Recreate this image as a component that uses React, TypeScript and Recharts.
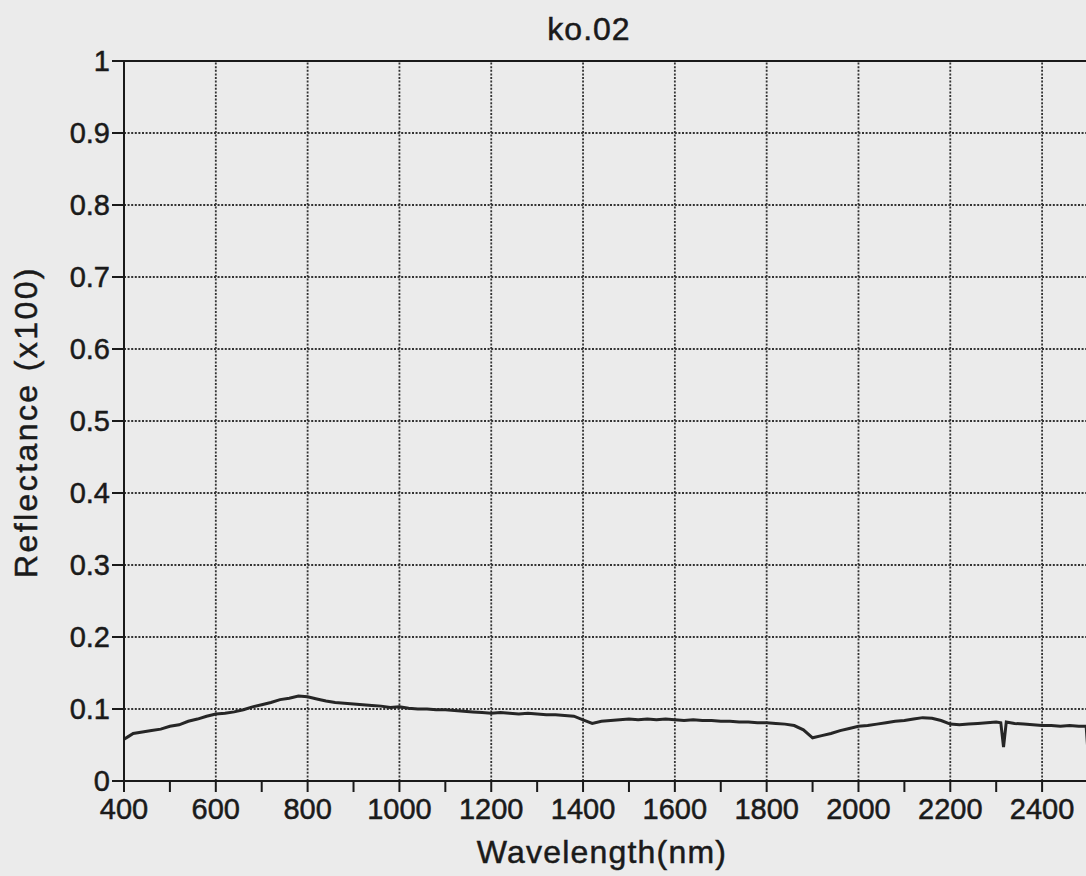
import React from "react";
import {
  LineChart,
  Line,
  XAxis,
  YAxis,
  ReferenceLine,
} from "recharts";

// wavelength in nm, reflectance (x100)
const wavelength = [
  400, 410, 420, 440, 460, 480, 500, 520, 540, 560, 580, 600, 620, 640, 660,
  680, 700, 720, 740, 760, 780, 800, 820, 840, 860, 880, 900, 920, 940, 960,
  980, 1000, 1020, 1040, 1060, 1080, 1100, 1120, 1140, 1160, 1180, 1200, 1220,
  1240, 1260, 1280, 1300, 1320, 1340, 1360, 1380, 1400, 1420, 1440, 1460,
  1480, 1500, 1520, 1540, 1560, 1580, 1600, 1620, 1640, 1660, 1680, 1700,
  1720, 1740, 1760, 1780, 1800, 1820, 1840, 1860, 1880, 1900, 1920, 1940,
  1960, 1980, 2000, 2020, 2040, 2060, 2080, 2100, 2120, 2140, 2160, 2180,
  2200, 2220, 2240, 2260, 2280, 2300, 2310, 2316, 2322, 2340, 2360, 2380,
  2400, 2420, 2440, 2460, 2480, 2496, 2500,
];

const reflectance = [
  0.058, 0.062, 0.066, 0.068, 0.07, 0.072, 0.076, 0.078, 0.083, 0.086, 0.09,
  0.093, 0.094, 0.096, 0.099, 0.103, 0.106, 0.109, 0.113, 0.115, 0.118, 0.117,
  0.114, 0.111, 0.109, 0.108, 0.107, 0.106, 0.105, 0.104, 0.102, 0.103, 0.101,
  0.1, 0.1, 0.099, 0.099, 0.098, 0.097, 0.096, 0.095, 0.094, 0.095, 0.094,
  0.093, 0.094, 0.093, 0.092, 0.092, 0.091, 0.09, 0.085, 0.08, 0.083, 0.084,
  0.085, 0.086, 0.085, 0.086, 0.085, 0.086, 0.085, 0.084, 0.085, 0.084, 0.084,
  0.083, 0.083, 0.082, 0.082, 0.081, 0.081, 0.08, 0.079, 0.077, 0.071, 0.06,
  0.063, 0.066, 0.07, 0.073, 0.076, 0.077, 0.079, 0.081, 0.083, 0.084, 0.086,
  0.088, 0.087, 0.084, 0.079, 0.078, 0.079, 0.08, 0.081, 0.082, 0.081, 0.047,
  0.082, 0.08, 0.079, 0.078, 0.077, 0.077, 0.076, 0.077, 0.076, 0.076, 0.04,
];

const xTicks = [
  400, 500, 600, 700, 800, 900, 1000, 1100, 1200, 1300, 1400, 1500, 1600,
  1700, 1800, 1900, 2000, 2100, 2200, 2300, 2400, 2500,
];
const xGrid = [600, 800, 1000, 1200, 1400, 1600, 1800, 2000, 2200, 2400];
const yTicks = [0, 0.1, 0.2, 0.3, 0.4, 0.5, 0.6, 0.7, 0.8, 0.9, 1];
const yGrid = [0.1, 0.2, 0.3, 0.4, 0.5, 0.6, 0.7, 0.8, 0.9];

const data = wavelength.map((w, i) => ({ w, r: reflectance[i] }));

const FONT = '"Liberation Sans", Arial, Helvetica, sans-serif';
const INK = "#1a1a1a";

function XTick(props: any) {
  const { x, y, payload } = props;
  const v = payload.value;
  if (v % 200 !== 0 || v > 2400) return <g />;
  return (
    <text
      x={x}
      y={y}
      dy={25}
      textAnchor="middle"
      fontSize={29}
      fontFamily={FONT}
      fill={INK}
      stroke={INK}
      strokeWidth={0.5}
    >
      {v}
    </text>
  );
}

const fmtY = (v: number) => (v === 0 ? "0" : v === 1 ? "1" : v.toFixed(1));

export default function App() {
  return (
    <div
      style={{
        position: "absolute",
        left: 0,
        top: 0,
        width: 1086,
        height: 876,
        overflow: "hidden",
        background: "#ebebeb",
      }}
    >
      <LineChart
        width={1090}
        height={876}
        data={data}
        margin={{ top: 61, right: 2, left: 0, bottom: 0 }}
      >
        {yGrid.map((v) => (
          <ReferenceLine
            key={"h" + v}
            y={v}
            stroke="#333"
            strokeWidth={1.8}
            strokeDasharray="2 1.6"
          />
        ))}
        {xGrid.map((v) => (
          <ReferenceLine
            key={"v" + v}
            x={v}
            stroke="#333"
            strokeWidth={1.8}
            strokeDasharray="2 1.6"
          />
        ))}
        <ReferenceLine y={1} stroke={INK} strokeWidth={2} />
        <XAxis
          type="number"
          dataKey="w"
          domain={[400, 2500]}
          ticks={xTicks}
          interval={0}
          height={95}
          tickSize={11}
          tick={<XTick />}
          axisLine={{ stroke: INK, strokeWidth: 2 }}
          tickLine={{ stroke: INK, strokeWidth: 2 }}
        />
        <YAxis
          type="number"
          domain={[0, 1]}
          ticks={yTicks}
          interval={0}
          width={124}
          tickSize={12}
          tickMargin={2}
          tickFormatter={fmtY}
          tick={{
            fontSize: 29,
            fontFamily: FONT,
            fill: INK,
            stroke: INK,
            strokeWidth: 0.5,
          }}
          axisLine={{ stroke: INK, strokeWidth: 2 }}
          tickLine={{ stroke: INK, strokeWidth: 2 }}
        />
        <Line
          type="linear"
          dataKey="r"
          stroke="#262626"
          strokeWidth={3}
          dot={false}
          isAnimationActive={false}
        />
      </LineChart>
      <svg
        width={1086}
        height={876}
        style={{ position: "absolute", left: 0, top: 0, pointerEvents: "none" }}
      >
        <text
          x={589}
          y={40}
          textAnchor="middle"
          fontSize={32}
          letterSpacing={1}
          fontFamily={FONT}
          fill={INK}
          stroke={INK}
          strokeWidth={0.5}
        >
          ko.02
        </text>
        <text
          x={602}
          y={863}
          textAnchor="middle"
          fontSize={32}
          letterSpacing={1.2}
          fontFamily={FONT}
          fill={INK}
          stroke={INK}
          strokeWidth={0.5}
        >
          Wavelength(nm)
        </text>
        <text
          transform="translate(37,422) rotate(-90)"
          textAnchor="middle"
          fontSize={32}
          letterSpacing={2.4}
          fontFamily={FONT}
          fill={INK}
          stroke={INK}
          strokeWidth={0.5}
        >
          Reflectance (x100)
        </text>
      </svg>
    </div>
  );
}
